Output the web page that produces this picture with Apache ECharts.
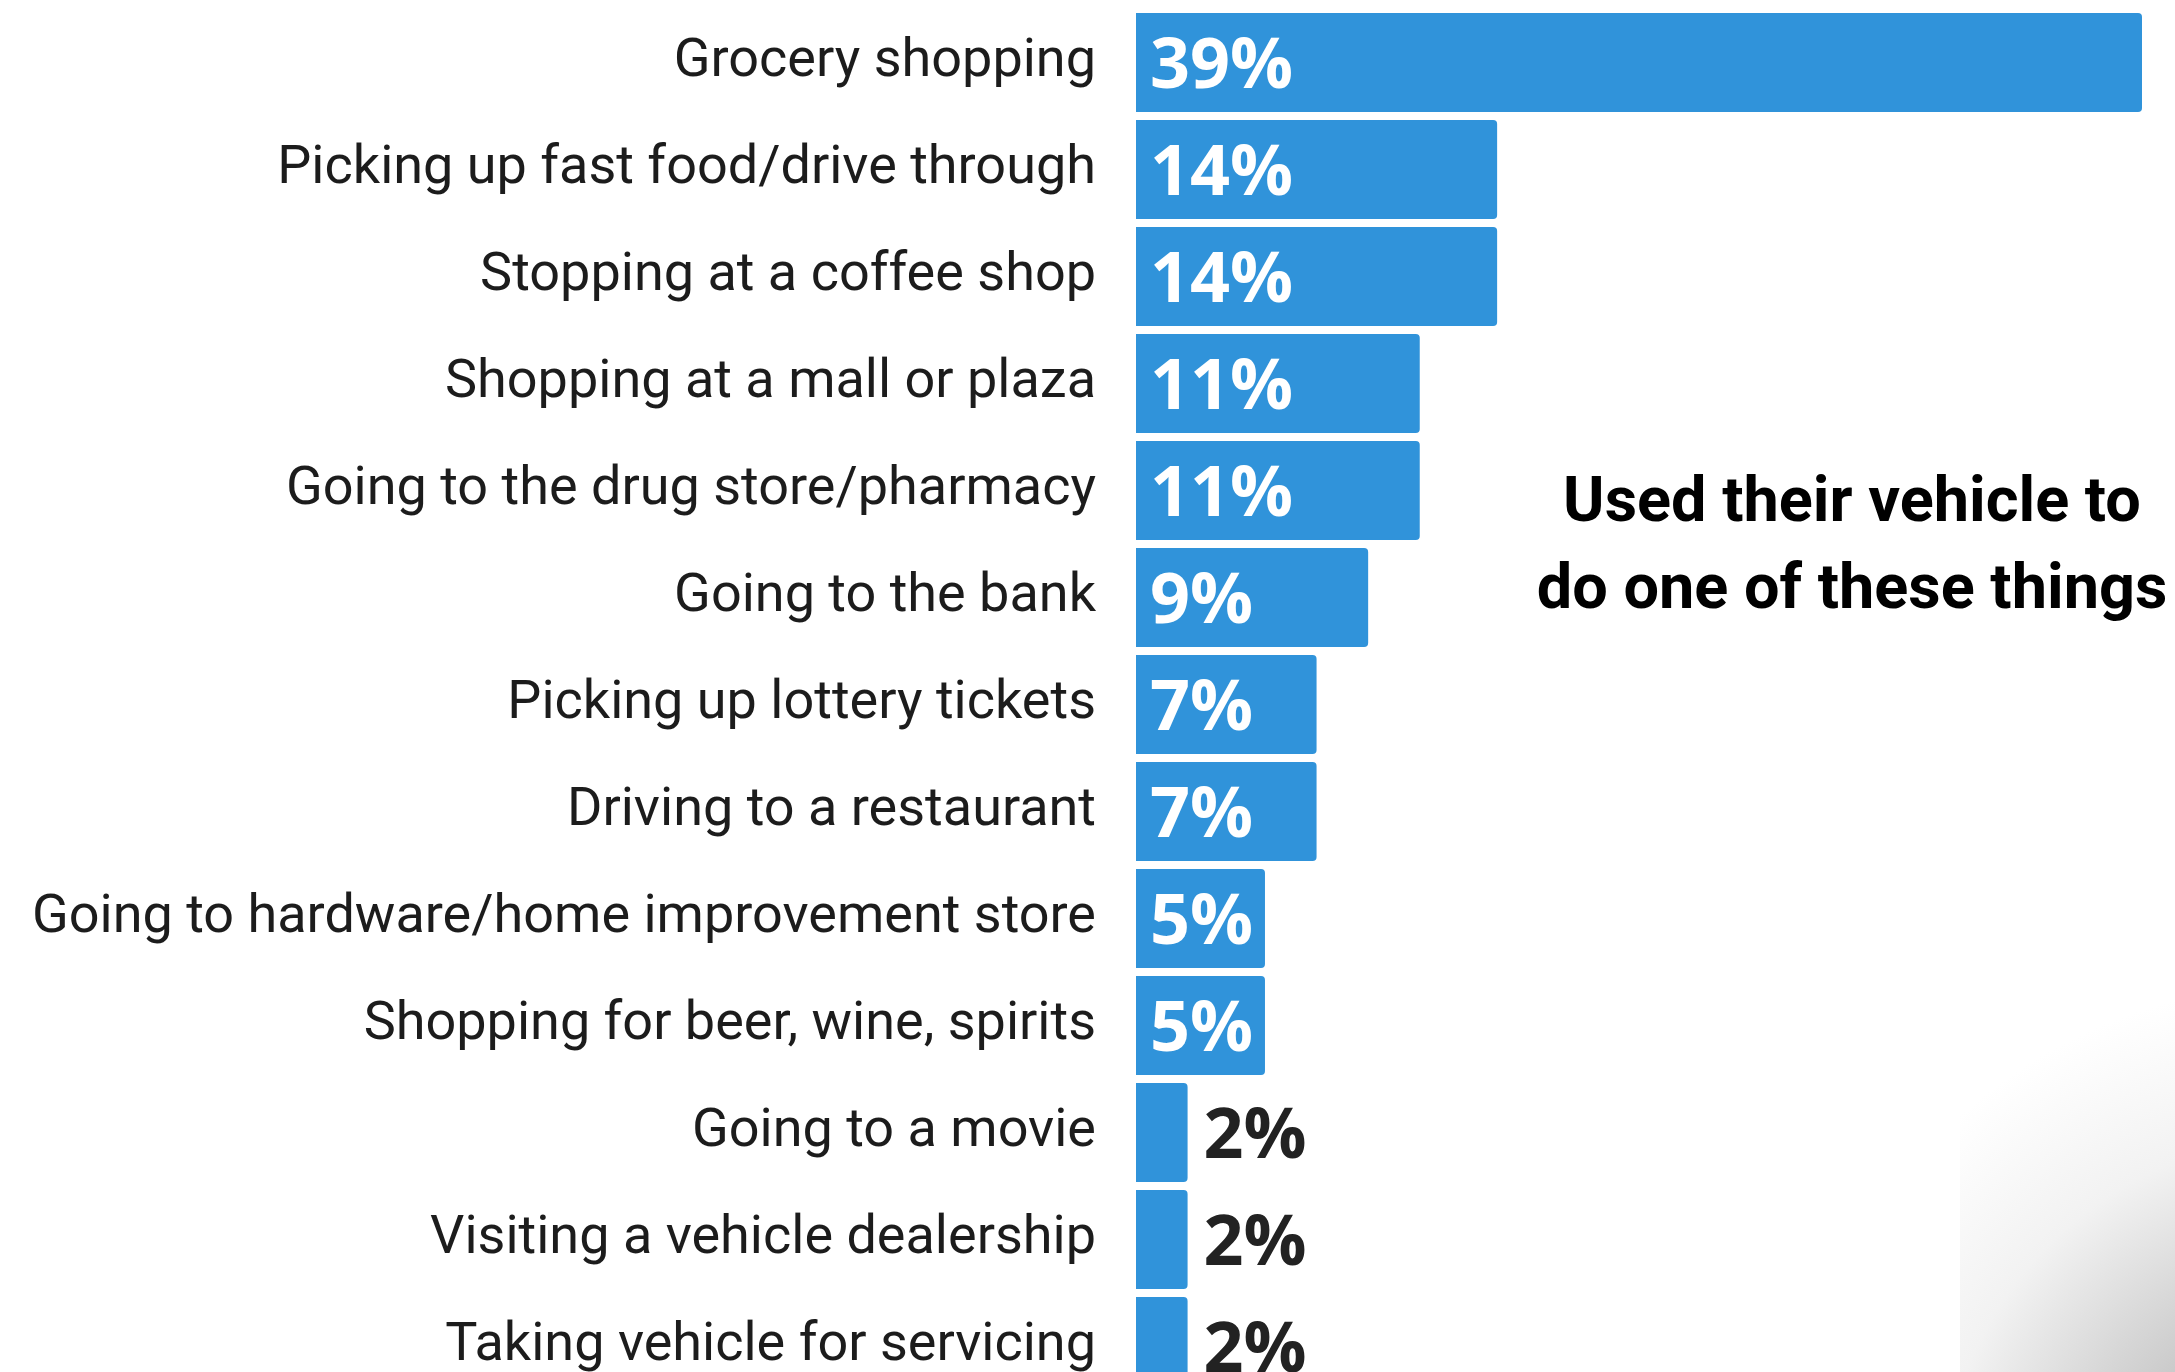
<!DOCTYPE html>
<html>
<head>
<meta charset="utf-8">
<script src="https://cdn.jsdelivr.net/npm/echarts@6/dist/echarts.min.js"></script>
<style>
  html, body { margin: 0; padding: 0; background: #ffffff; overflow: hidden; }
  /* the page frame; the last row of the chart runs past its lower edge */
  #frame { width: 2175px; height: 1372px; overflow: hidden; position: relative; }
  #chart { width: 2175px; height: 1400px; }
</style>
</head>
<body>
<div id="frame"><div id="chart"></div></div>
<script>
// Activities people used their vehicle for (share of respondents, %)
const categories = [
  'Grocery shopping',
  'Picking up fast food/drive through',
  'Stopping at a coffee shop',
  'Shopping at a mall or plaza',
  'Going to the drug store/pharmacy',
  'Going to the bank',
  'Picking up lottery tickets',
  'Driving to a restaurant',
  'Going to hardware/home improvement store',
  'Shopping for beer, wine, spirits',
  'Going to a movie',
  'Visiting a vehicle dealership',
  'Taking vehicle for servicing'
];
const values = [39, 14, 14, 11, 11, 9, 7, 7, 5, 5, 2, 2, 2];
const noteLines = ['Used their vehicle to', 'do one of these things'];

const BAR_COLOR = '#3093da';
const SMALL_VALUE = 3; // below this, the label sits outside the bar

const chart = echarts.init(document.getElementById('chart'));

const seriesData = values.map(function (v) {
  const inside = v >= SMALL_VALUE;
  return {
    value: v,
    label: inside ? {
      position: 'insideLeft',
      distance: 14,
      color: '#ffffff',
      offset: [0, 6]
    } : {
      position: 'right',
      distance: 16,
      color: '#222222',
      offset: [0, 6]
    }
  };
});

chart.setOption({
  backgroundColor: '#ffffff',
  animation: false,
  grid: {
    left: 1136,
    right: 33,
    top: 9,
    bottom: 0,
    containLabel: false
  },
  xAxis: {
    type: 'value',
    min: 0,
    max: 39,
    show: false
  },
  yAxis: {
    type: 'category',
    data: categories,
    inverse: true,
    axisLine: { show: false },
    axisTick: { show: false },
    splitLine: { show: false },
    axisLabel: {
      margin: 40,
      fontFamily: 'Roboto',
      fontSize: 54,
      color: '#1c1c1c'
    }
  },
  series: [{
    type: 'bar',
    data: seriesData,
    barCategoryGap: '7.5%',
    itemStyle: {
      color: BAR_COLOR,
      borderRadius: [0, 4, 4, 0]
    },
    label: {
      show: true,
      formatter: '{c}%',
      fontFamily: 'Open Sans',
      fontWeight: 'bold',
      fontSize: 70
    }
  }],
  graphic: [
    {
      // soft shadow in the lower right corner
      type: 'rect',
      z: -1,
      silent: true,
      shape: { x: 1960, y: 860, width: 215, height: 512 },
      style: {
        fill: {
          type: 'radial',
          x: 1.6, y: 1.25, r: 2.4,
          colorStops: [
            { offset: 0, color: '#a4a4a4' },
            { offset: 0.35, color: '#cacaca' },
            { offset: 0.7, color: '#f2f2f2' },
            { offset: 1, color: '#ffffff' }
          ]
        }
      }
    },
    {
      type: 'text',
      x: 1852,
      y: 462,
      style: {
        text: noteLines.join('\n'),
        align: 'center',
        verticalAlign: 'top',
        fontFamily: 'Roboto',
        fontWeight: 'bold',
        fontSize: 63,
        lineHeight: 87,
        fill: '#000000'
      }
    }
  ]
});
</script>
</body>
</html>
